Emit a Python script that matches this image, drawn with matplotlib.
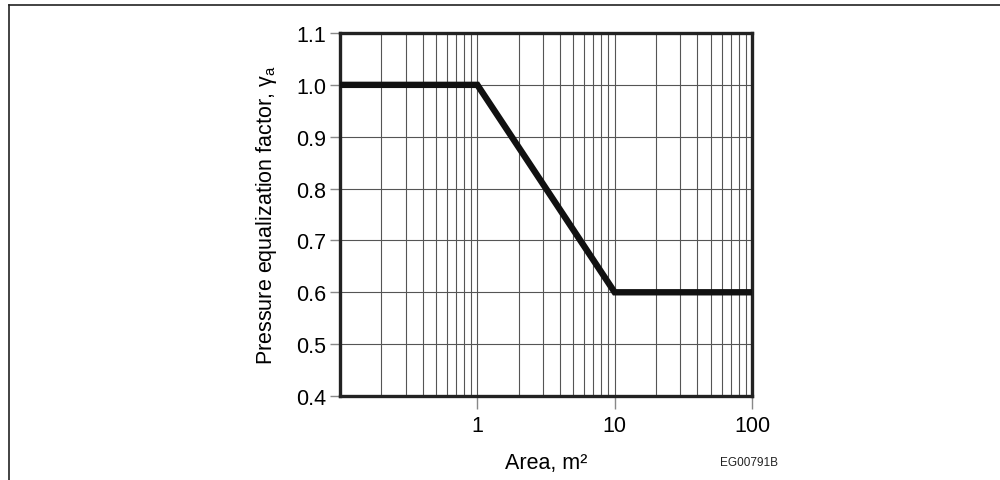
import matplotlib
matplotlib.use("Agg")
import matplotlib.pyplot as plt
from matplotlib.lines import Line2D
import numpy as np

plt.rcParams['font.family'] = ['Liberation Sans', 'DejaVu Sans']
plt.rcParams['mathtext.fontset'] = 'custom'
plt.rcParams['mathtext.rm'] = 'Liberation Sans'
plt.rcParams['mathtext.it'] = 'Liberation Sans'

# data
area = [0.1, 1, 10, 100]
gamma_a = [1.0, 1.0, 0.6, 0.6]
x_ticks = [1, 10, 100]
x_labels = ["1", "10", "100"]
y_ticks = [0.4, 0.5, 0.6, 0.7, 0.8, 0.9, 1.0, 1.1]

fig = plt.figure(figsize=(10, 4.81), dpi=100)
ax = fig.add_axes([0.340, 1 - 397/481, 0.412, (397 - 34)/481])

ax.set_xscale("log")
ax.set_xlim(0.1, 100)
ax.set_ylim(0.4, 1.1)

# grid
minor_x = [m * 10.0**d for d in (-1, 0, 1) for m in range(2, 10)]
for xv in minor_x + [1, 10]:
    ax.axvline(xv, color="#555555", lw=0.8, zorder=1)
for yv in y_ticks[1:-1]:
    ax.axhline(yv, color="#555555", lw=0.8, zorder=1)

ax.plot(area, gamma_a, color="#111111", lw=4.6, solid_joinstyle="miter", zorder=3)

ax.set_xticks(x_ticks)
ax.set_xticklabels(x_labels)
ax.xaxis.set_minor_locator(matplotlib.ticker.NullLocator())
ax.set_yticks(y_ticks)
ax.set_yticklabels([f"{v:.1f}" for v in y_ticks])
ax.tick_params(axis="both", direction="out", length=9, width=1.0, color="#888888",
               labelsize=15.5, pad=3)
ax.tick_params(axis="x", pad=5)
ax.tick_params(axis="y", length=7)

for s in ax.spines.values():
    s.set_linewidth(2.4)
    s.set_color("#222222")

ax.set_xlabel("Area, m²", fontsize=15.5, labelpad=11)
ax.set_ylabel(r"Pressure equalization factor, $\gamma_{\mathrm{a}}$", fontsize=15.5, labelpad=12)

fig.text(0.749, 1 - 463/481, "EG00791B", fontsize=8.5, color="#222222", ha="center", va="center")

# outer frame
fig.add_artist(Line2D([9/1000, 1.0], [1 - 6/481, 1 - 6/481], transform=fig.transFigure, color="#222222", lw=1.2))
fig.add_artist(Line2D([9/1000, 9/1000], [0, 1 - 6/481], transform=fig.transFigure, color="#222222", lw=1.2))

fig.savefig("out.png", dpi=100)
